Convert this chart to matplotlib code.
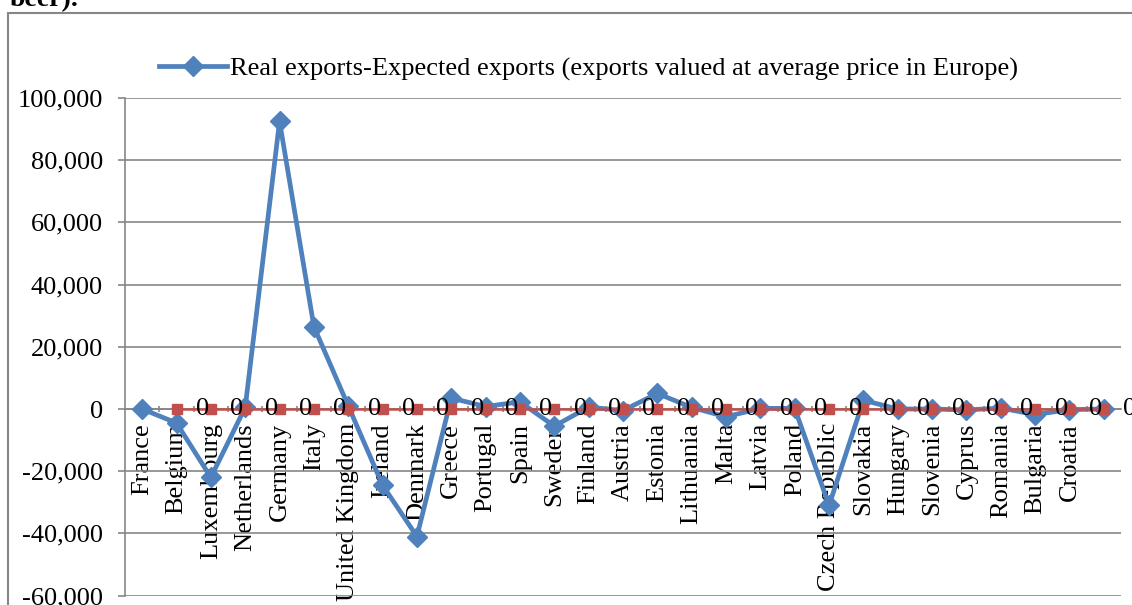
import matplotlib.pyplot as plt
from matplotlib.ticker import FuncFormatter, MultipleLocator, FixedLocator
from matplotlib.patches import Rectangle

plt.rcParams['font.family'] = ['Liberation Serif', 'DejaVu Serif']

# Countries (last category has no label)
countries = ['France', 'Belgium', 'Luxembourg', 'Netherlands', 'Germany', 'Italy',
             'United Kingdom', 'Ireland', 'Denmark', 'Greece', 'Portugal', 'Spain',
             'Sweden', 'Finland', 'Austria', 'Estonia', 'Lithuania', 'Malta', 'Latvia',
             'Poland', 'Czech Republic', 'Slovakia', 'Hungary', 'Slovenia', 'Cyprus',
             'Romania', 'Bulgaria', 'Croatia', '']

# Real exports minus expected exports
diff_exports = [0, -4500, -22000, 500, 92500, 26500, 1000, -24500, -41000, 3500,
                800, 2300, -5500, 600, -500, 5000, 500, -2500, 200, 200,
                -31000, 2800, 0, 0, -300, 300, -1800, -200, 0]

# second series, all zeros (from Belgium onwards)
zero_series = [0] * 28

line_label = 'Real exports-Expected exports (exports valued at average price in Europe)'

blue = '#4F81BD'
red = '#C0504D'
grid_col = '#868686'
fs = 19

fig = plt.figure(figsize=(11.32, 6.05), dpi=100)
ax = fig.add_axes([125 / 1132, 1 - 595.6 / 605, (1121 - 125) / 1132, (595.6 - 98) / 605])

x = list(range(len(countries)))
ax.plot(x, diff_exports, color=blue, lw=3.4, marker='D', ms=10.5, mec=blue, mfc=blue,
        label=line_label, zorder=3, clip_on=False)

x_red = x[1:]
ax.plot(x_red, zero_series, color=red, lw=1.8, marker='s', ms=7, mec=red, mfc=red,
        zorder=4, clip_on=False)
for xi, v in zip(x_red, zero_series):
    ax.annotate(f'{v}', (xi, v), xytext=(14, 0), textcoords='offset points',
                ha='left', va='center', fontsize=fs, annotation_clip=False, zorder=5)

ax.set_xlim(-0.5, len(countries) - 0.5)
ax.set_ylim(-60000, 100000)
ax.yaxis.set_major_locator(MultipleLocator(20000))
ax.yaxis.set_major_formatter(FuncFormatter(lambda v, p: f'{v:,.0f}'))
ax.grid(axis='y', color=grid_col, lw=1.2)
ax.set_axisbelow(True)

for s in ['top', 'right']:
    ax.spines[s].set_visible(False)
ax.spines['left'].set_color(grid_col)
ax.spines['left'].set_linewidth(1.2)
ax.spines['bottom'].set_position(('data', 0))
ax.spines['bottom'].set_color(grid_col)
ax.spines['bottom'].set_linewidth(1.2)

ax.tick_params(axis='y', length=5, width=1.2, color=grid_col, pad=11, labelsize=fs)
ax.xaxis.set_major_locator(FixedLocator(x))
ax.set_xticklabels(countries, rotation=90, fontsize=fs, va='top', ha='center')
ax.tick_params(axis='x', which='major', length=0, pad=10)
ax.xaxis.set_minor_locator(FixedLocator([i + 0.5 for i in x[:-1]]))
ax.tick_params(axis='x', which='minor', length=5, width=1.2, color=grid_col, direction='inout')

ax.legend(loc='lower left', bbox_to_anchor=(0.034, 1.035), frameon=False, fontsize=fs,
          handlelength=2.6, handletextpad=0.1, borderaxespad=0, borderpad=0)

# chart frame and cut title line
fig.patches.append(Rectangle((8 / 1132, -0.1), 1.2, 1 - 12.5 / 605 + 0.1,
                             transform=fig.transFigure, fill=False, ec=grid_col, lw=1.5))
fig.text(10 / 1132, 1 - 6 / 605, 'beer).', fontsize=20, weight='bold', va='baseline')

fig.savefig('out.png', dpi=100)
